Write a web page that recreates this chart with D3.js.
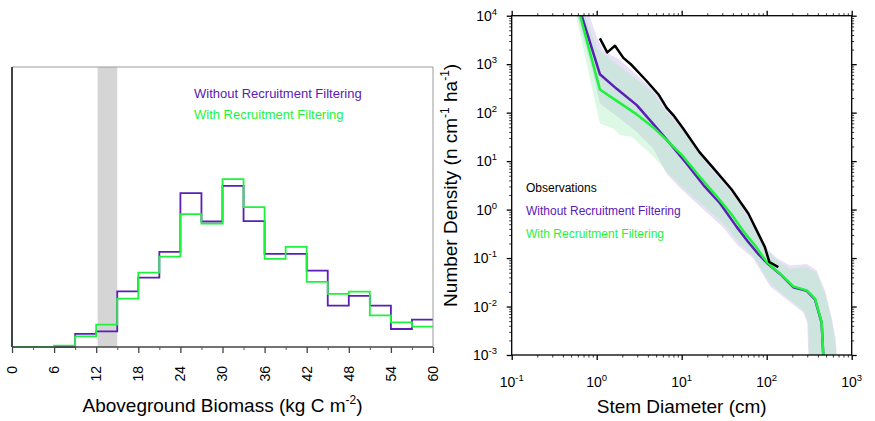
<!DOCTYPE html>
<html><head><meta charset="utf-8">
<script src="https://cdn.jsdelivr.net/npm/d3@7/dist/d3.min.js"></script>
<style>
body{margin:0;background:#fff}
svg{display:block;font-family:"Liberation Sans",Arial,Helvetica,sans-serif}
</style>
</head><body>
<svg id="chart" width="875" height="421"></svg>
<script>
// ---------------- Left panel data (histogram, % of samples) ----------------
const binStarts = [0,3,6,9,12,15,18,21,24,27,30,33,36,39,42,45,48,51,54,57];
const binEnd = 60;
const withoutFiltering = [0,0,0,1.04,1.25,4.43,5.52,7.57,12.24,9.98,12.82,10.01,7.41,7.41,6.08,3.29,4.06,3.29,1.43,2.18];
const withFiltering    = [0,0,0.11,0.85,1.78,3.85,5.92,7.19,10.57,9.82,13.35,11.12,7.01,7.96,5.18,4.22,4.41,2.52,1.96,1.62];
const observedRange = [12.2, 15];
const biomassTicks = [0,6,12,18,24,30,36,42,48,54,60];
const biomassMinorTicks = [3,9,15,21,27,33,39,45,51,57];
const freqMax = 22.27;

// ---------------- Right panel data (size distribution) ----------------
const diamTicks = [0.1,1,10,100,1000];
const densityTicks = [1e-3,1e-2,1e-1,1,10,100,1000,10000];

const obsDiam = [1.09,1.33,1.64,2.06,2.58,3.87,5.31,6.66,7.96,10.4,16.1,24.7,38.7,60.8,83.4,95,107.4,137];
const obsDens = [3400,1750,2400,1350,960,450,240,125,89,47,15.5,6.5,2.6,0.83,0.27,0.17,0.083,0.065];

const noFiltDiam = [0.6,1.09,1.72,2.96,4.64,7.3,11.4,18,28.2,44.3,60,80,100,143.5,205.6,295.6,370,443,463,466];
const noFiltDens = [18000,620,310,143,58,23,8.9,3.2,1.35,0.44,0.22,0.12,0.08,0.047,0.025,0.021,0.014,0.0046,0.001,0.0003];

const filtDiam = [0.6,1.09,1.72,2.96,4.8,6.66,10.2,16.4,26,38.5,53,72.8,100,143.5,205.6,295.6,370,443,463,466];
const filtDens = [15000,301,175,92,47,27,13,4.7,1.85,0.8,0.36,0.183,0.0826,0.0476,0.026,0.0215,0.0145,0.00476,0.001,0.0003];

// spread envelopes (upper and lower edges)
const noFiltHiDiam = [0.66,0.82,1.0,1.2,1.88,2.7,4.24,6.66,11.4,16,21.6,35,50,76,100,131,188,296,388,487,580,645,700];
const noFiltHiDens = [30000,10000,3700,1900,1216,700,340,143,36,17,7.8,3.0,1.35,0.36,0.16,0.1,0.07,0.075,0.055,0.021,0.006,0.0022,0.0004];
const noFiltLoDiam = [0.53,0.59,0.85,1.09,1.88,2.96,4.64,6.66,9.55,18,30,46,69,110,172,270,300,315];
const noFiltLoDens = [30000,10000,1000,155,76,40,18,5.5,2.8,1.0,0.45,0.18,0.1,0.026,0.014,0.0075,0.0045,0.0004];

const filtHiDiam = [0.6,0.73,1.0,1.5,2.7,4.64,6.1,8.7,11.4,16,21.6,35,50,76,100,131,188,296,388,487,580,638,690];
const filtHiDens = [30000,10000,2100,1200,550,260,120,60,33,15,7,2.7,1.2,0.32,0.144,0.09,0.06,0.065,0.048,0.0184,0.0052,0.002,0.0004];
const filtLoDiam = [0.52,0.57,0.8,1.09,1.57,1.88,2.58,3.87,5.08,6.66,9.55,18,30,46,69,110,172,270,307,320];
const filtLoDens = [30000,10000,700,60,47,34,32,16.8,10.4,6.0,3.2,1.2,0.55,0.22,0.11,0.03,0.0156,0.0083,0.0052,0.0004];

// ---------------- styles ----------------
const PURPLE = "#5a20b4";
const GREEN = "#1ff23c";
const svg = d3.select("#chart");

// ================= LEFT PANEL =================
const L = {x0:12, x1:433, y0:67, y1:347};
const xL = d3.scaleLinear().domain([0,60]).range([L.x0, L.x1]);
const yL = d3.scaleLinear().domain([0,freqMax]).range([L.y1, L.y0]);
const gL = svg.append("g");

gL.append("rect")
  .attr("x", xL(observedRange[0])).attr("y", L.y0)
  .attr("width", xL(observedRange[1]) - xL(observedRange[0]))
  .attr("height", L.y1 - L.y0)
  .attr("fill", "#d5d5d5");

const stepLine = d3.line().x(d=>xL(d[0])).y(d=>yL(d[1])).curve(d3.curveStepAfter);
function stepPts(vals){
  const p = binStarts.map((s,i)=>[s, vals[i]]);
  p.push([binEnd, vals[vals.length-1]]);
  return p;
}
gL.append("path").attr("d", stepLine(stepPts(withoutFiltering)))
  .attr("fill","none").attr("stroke",PURPLE).attr("stroke-width",1.8);
gL.append("path").attr("d", stepLine(stepPts(withFiltering)))
  .attr("fill","none").attr("stroke",GREEN).attr("stroke-width",1.8);

// frame
gL.append("line").attr("x1",L.x0).attr("x2",L.x1).attr("y1",L.y0).attr("y2",L.y0).attr("stroke","#9a9a9a").attr("stroke-width",1);
gL.append("line").attr("x1",L.x1).attr("x2",L.x1).attr("y1",L.y0).attr("y2",L.y1).attr("stroke","#9a9a9a").attr("stroke-width",1);
gL.append("line").attr("x1",L.x0).attr("x2",L.x0).attr("y1",L.y0).attr("y2",L.y1).attr("stroke","#444").attr("stroke-width",2);
gL.append("line").attr("x1",L.x0).attr("x2",L.x1).attr("y1",L.y1).attr("y2",L.y1).attr("stroke","#444").attr("stroke-width",1.5);

// x axis ticks
const axL = gL.append("g").attr("transform",`translate(0,${L.y1})`)
  .call(d3.axisBottom(xL).tickValues(biomassTicks).tickSize(6).tickFormat(""));
axL.select(".domain").remove();
axL.selectAll(".tick line").attr("stroke","#444").attr("stroke-width",1.3);
const axLm = gL.append("g").attr("transform",`translate(0,${L.y1})`)
  .call(d3.axisBottom(xL).tickValues(biomassMinorTicks).tickSize(3).tickFormat(""));
axLm.select(".domain").remove();
axLm.selectAll(".tick line").attr("stroke","#555").attr("stroke-width",1);

gL.selectAll("text.xl").data(biomassTicks).enter().append("text")
  .attr("class","xl")
  .attr("transform", d=>`translate(${xL(d)},366) rotate(-90)`)
  .attr("text-anchor","end").attr("dy","0.35em")
  .attr("font-size",14).attr("fill","#000").text(d=>d);

const tL = gL.append("text").attr("x",(L.x0+L.x1)/2).attr("y",412)
  .attr("text-anchor","middle").attr("font-size",19).attr("fill","#000");
tL.append("tspan").text("Aboveground Biomass (kg C m");
tL.append("tspan").attr("dy",-8).attr("font-size",12).text("-2");
tL.append("tspan").attr("dy",8).text(")");

gL.append("text").attr("x",194).attr("y",98).attr("font-size",13).attr("fill",PURPLE).text("Without Recruitment Filtering");
gL.append("text").attr("x",194).attr("y",119).attr("font-size",13).attr("fill",GREEN).text("With Recruitment Filtering");

// ================= RIGHT PANEL =================
const R = {x0:511.7, x1:851.7, y0:15.7, y1:355};
const xR = d3.scaleLog().domain([0.1,1000]).range([R.x0,R.x1]);
const yR = d3.scaleLog().domain([1e-3,1e4]).range([R.y1,R.y0]);
const gR = svg.append("g");

svg.append("defs").append("clipPath").attr("id","clipR")
  .append("rect").attr("x",R.x0).attr("y",R.y0).attr("width",R.x1-R.x0).attr("height",R.y1-R.y0);
const plot = gR.append("g").attr("clip-path","url(#clipR)");

const lineR = d3.line().x(d=>xR(d[0])).y(d=>yR(d[1]));
function zip(a,b){return a.map((v,i)=>[v,b[i]]);}
function band(hiD,hiN,loD,loN){
  const pts = zip(hiD,hiN).concat(zip(loD,loN).reverse());
  return lineR(pts) + "Z";
}
plot.append("path").attr("d", band(noFiltHiDiam,noFiltHiDens,noFiltLoDiam,noFiltLoDens))
  .attr("fill","rgb(178,155,222)").attr("fill-opacity",0.3).attr("stroke","none");
plot.append("path").attr("d", band(filtHiDiam,filtHiDens,filtLoDiam,filtLoDens))
  .attr("fill","rgb(150,236,176)").attr("fill-opacity",0.32).attr("stroke","none");

plot.append("path").attr("d", lineR(zip(noFiltDiam,noFiltDens)))
  .attr("fill","none").attr("stroke",PURPLE).attr("stroke-width",2.5).attr("stroke-linejoin","round");
plot.append("path").attr("d", lineR(zip(filtDiam,filtDens)))
  .attr("fill","none").attr("stroke",GREEN).attr("stroke-width",2.5).attr("stroke-linejoin","round");
plot.append("path").attr("d", lineR(zip(obsDiam,obsDens)))
  .attr("fill","none").attr("stroke","#000").attr("stroke-width",2.5).attr("stroke-linejoin","round");

// frame
gR.append("rect").attr("x",R.x0).attr("y",R.y0).attr("width",R.x1-R.x0).attr("height",R.y1-R.y0)
  .attr("fill","none").attr("stroke","#000").attr("stroke-width",1.3);

// ticks on all four sides (outward)
const xMinor = xR.ticks().filter(v=>!diamTicks.includes(v));
const yMinor = yR.ticks().filter(v=>!densityTicks.some(t=>Math.abs(Math.log10(t)-Math.log10(v))<1e-9));
function tickAxis(axisFn, scale, pos, vals, size, w){
  const g = gR.append("g").attr("transform",pos)
    .call(axisFn(scale).tickValues(vals).tickSize(size).tickFormat(""));
  g.select(".domain").remove();
  g.selectAll(".tick line").attr("stroke","#000").attr("stroke-width",w);
}
tickAxis(d3.axisBottom, xR, `translate(0,${R.y1})`, diamTicks, 5, 1.3);
tickAxis(d3.axisBottom, xR, `translate(0,${R.y1})`, xMinor, 2.5, 0.8);
tickAxis(d3.axisTop, xR, `translate(0,${R.y0})`, diamTicks, 5, 1.3);
tickAxis(d3.axisTop, xR, `translate(0,${R.y0})`, xMinor, 2.5, 0.8);
tickAxis(d3.axisLeft, yR, `translate(${R.x0},0)`, densityTicks, 5, 1.3);
tickAxis(d3.axisLeft, yR, `translate(${R.x0},0)`, yMinor, 2.5, 0.8);
tickAxis(d3.axisRight, yR, `translate(${R.x1},0)`, densityTicks, 5, 1.3);
tickAxis(d3.axisRight, yR, `translate(${R.x1},0)`, yMinor, 2.5, 0.8);

// tick labels with superscripts
const xl = gR.selectAll("text.xr").data(diamTicks).enter().append("text")
  .attr("class","xr").attr("x",d=>xR(d)).attr("y",386.5)
  .attr("text-anchor","middle").attr("font-size",14).attr("fill","#000");
xl.append("tspan").text("10");
xl.append("tspan").attr("dy",-6).attr("font-size",9.5).text(d=>Math.round(Math.log10(d)));

const yl = gR.selectAll("text.yr").data(densityTicks).enter().append("text")
  .attr("class","yr").attr("x",497).attr("y",d=>yR(d)+5)
  .attr("text-anchor","end").attr("font-size",14).attr("fill","#000");
yl.append("tspan").text("10");
yl.append("tspan").attr("dy",-6).attr("font-size",9.5).text(d=>Math.round(Math.log10(d)));

// titles
gR.append("text").attr("x",(R.x0+R.x1)/2).attr("y",413).attr("text-anchor","middle")
  .attr("font-size",19).attr("fill","#000").text("Stem Diameter (cm)");
const ty = gR.append("text").attr("transform",`translate(457,${(R.y0+R.y1)/2}) rotate(-90)`)
  .attr("text-anchor","middle").attr("font-size",19).attr("fill","#000");
ty.append("tspan").text("Number Density (n cm");
ty.append("tspan").attr("dy",-8).attr("font-size",12).text("-1");
ty.append("tspan").attr("dy",8).text(" ha");
ty.append("tspan").attr("dy",-8).attr("font-size",12).text("-1");
ty.append("tspan").attr("dy",8).text(")");

// legend
gR.append("text").attr("x",526).attr("y",192).attr("font-size",12).attr("fill","#000").text("Observations");
gR.append("text").attr("x",526).attr("y",215).attr("font-size",12).attr("fill",PURPLE).text("Without Recruitment Filtering");
gR.append("text").attr("x",526).attr("y",238).attr("font-size",12).attr("fill",GREEN).text("With Recruitment Filtering");
</script>
</body></html>
